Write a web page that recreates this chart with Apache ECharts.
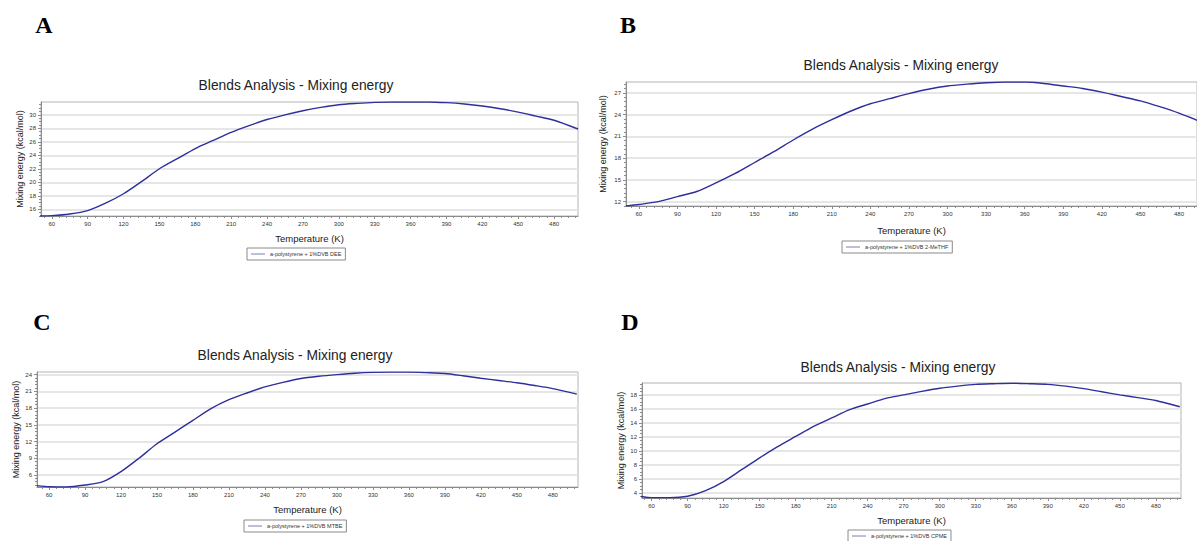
<!DOCTYPE html>
<html>
<head>
<meta charset="utf-8">
<title>Blends Analysis - Mixing energy</title>
<script src="https://cdn.jsdelivr.net/npm/echarts@6/dist/echarts.min.js"></script>
<style>
html, body { margin: 0; padding: 0; background: #fff; }
#chart { width: 1197px; height: 541px; }
</style>
</head>
<body>
<div id="chart"></div>
<script>
// temperature (K) points, same for all four panels
var temps = [50, 60, 75, 90, 105, 120, 135, 150, 165, 180, 195, 210, 225, 240, 255, 270,
  285, 300, 315, 330, 345, 360, 375, 390, 405, 420, 435, 450, 465, 480, 500];

// mixing energy (kcal/mol)
var energyDEE = [15.0, 15.05, 15.3, 15.8, 16.9, 18.3, 20.1, 22.0, 23.5, 25.0, 26.2, 27.4, 28.4, 29.3, 30.0, 30.6,
  31.1, 31.5, 31.7, 31.85, 31.9, 31.9, 31.9, 31.8, 31.6, 31.3, 30.9, 30.4, 29.8, 29.2, 27.9];
var energyMeTHF = [11.4, 11.6, 12.0, 12.7, 13.4, 14.6, 15.9, 17.4, 18.9, 20.5, 22.0, 23.3, 24.5, 25.5, 26.2, 26.9,
  27.5, 27.95, 28.2, 28.4, 28.5, 28.5, 28.3, 27.95, 27.6, 27.1, 26.5, 25.9, 25.1, 24.2, 22.8];
var energyMTBE = [4.1, 3.9, 3.85, 4.2, 4.8, 6.6, 9.0, 11.6, 13.7, 15.8, 17.9, 19.5, 20.7, 21.8, 22.6, 23.3,
  23.7, 24.0, 24.25, 24.4, 24.45, 24.45, 24.35, 24.2, 23.8, 23.35, 22.95, 22.55, 22.05, 21.5, 20.5];
var energyCPME = [3.5, 3.3, 3.3, 3.5, 4.3, 5.6, 7.3, 9.0, 10.6, 12.05, 13.5, 14.7, 15.9, 16.7, 17.5, 18.0,
  18.5, 18.95, 19.25, 19.5, 19.6, 19.67, 19.6, 19.5, 19.25, 18.9, 18.45, 18.0, 17.6, 17.2, 16.3];

// tick labels
var xLabels = [60, 90, 120, 150, 180, 210, 240, 270, 300, 330, 360, 390, 420, 450, 480];
var yLabelsA = [16, 18, 20, 22, 24, 26, 28, 30];
var yLabelsB = [12, 15, 18, 21, 24, 27];
var yLabelsC = [6, 9, 12, 15, 18, 21, 24];
var yLabelsD = [4, 6, 8, 10, 12, 14, 16, 18];

var seriesNames = ['a-polystyrene + 1%DVB DEE', 'a-polystyrene + 1%DVB 2-MeTHF',
  'a-polystyrene + 1%DVB MTBE', 'a-polystyrene + 1%DVB CPME'];
var panelLetters = ['A', 'B', 'C', 'D'];

var panels = [
  { data: energyDEE, yLabels: yLabelsA, yMin: 15.0, yMax: 31.9, yStep: 0.5, xMin: 51, xMax: 500,
    grid: { left: 41, top: 102, width: 537, height: 114 }, title: [296, 85], legend: [247, 248],
    letter: [44, 25], gapY: 17, gapX: 17 },
  { data: energyMeTHF, yLabels: yLabelsB, yMin: 11.4, yMax: 28.5, yStep: 0.6, xMin: 50, xMax: 494,
    grid: { left: 626, top: 82, width: 571, height: 124 }, title: [901, 65], legend: [842, 241],
    letter: [628, 25], gapY: 19, gapX: 19 },
  { data: energyMTBE, yLabels: yLabelsC, yMin: 3.85, yMax: 24.47, yStep: 0.6, xMin: 50, xMax: 501,
    grid: { left: 37, top: 372, width: 541, height: 115 }, title: [295, 355], legend: [244, 520],
    letter: [42, 322], gapY: 17, gapX: 17 },
  { data: energyCPME, yLabels: yLabelsD, yMin: 3.25, yMax: 19.7, yStep: 0.5, xMin: 52, xMax: 501,
    grid: { left: 642, top: 383, width: 539, height: 115 }, title: [898, 367], legend: [848, 530],
    letter: [630, 322], gapY: 17, gapX: 17 }
];

function steps(a, b, s) {
  var out = [];
  for (var v = Math.ceil(a / s) * s; v <= b + 1e-9; v += s) out.push(+v.toFixed(3));
  return out;
}

var grids = [], xAxes = [], yAxes = [], series = [], legends = [], graphics = [];
var axisColor = '#8c8c8c';
var font = 'Liberation Sans';

panels.forEach(function (p, i) {
  grids.push({ left: p.grid.left, top: p.grid.top, width: p.grid.width, height: p.grid.height,
    show: true, borderColor: '#b4b4b4', borderWidth: 1, backgroundColor: '#fff' });

  xAxes.push({
    gridIndex: i, type: 'value', min: p.xMin, max: p.xMax,
    name: 'Temperature (K)', nameLocation: 'middle', nameGap: p.gapX,
    nameTextStyle: { fontSize: 9.5, color: '#222', fontFamily: font },
    axisLine: { show: true, lineStyle: { color: axisColor } },
    axisTick: { show: true, customValues: xLabels, length: 3, lineStyle: { color: axisColor } },
    axisLabel: { customValues: xLabels, fontSize: 6, color: '#333', margin: 5, fontFamily: font },
    splitLine: { show: false }
  });
  // minor ticks
  xAxes.push({
    gridIndex: i, type: 'value', min: p.xMin, max: p.xMax, position: 'bottom',
    axisLine: { show: false },
    axisTick: { show: true, customValues: steps(p.xMin, p.xMax, 6), length: 2, lineStyle: { color: axisColor } },
    axisLabel: { show: false }, splitLine: { show: false }
  });

  yAxes.push({
    gridIndex: i, type: 'value', min: p.yMin, max: p.yMax,
    name: 'Mixing energy (kcal/mol)', nameLocation: 'middle', nameGap: p.gapY,
    nameTextStyle: { fontSize: 9, color: '#222', fontFamily: font },
    axisLine: { show: true, lineStyle: { color: axisColor } },
    axisTick: { show: true, customValues: p.yLabels, length: 3, lineStyle: { color: axisColor } },
    axisLabel: { customValues: p.yLabels, fontSize: 6, color: '#333', margin: 5, fontFamily: font },
    splitLine: { show: true, lineStyle: { color: '#e6e6e6', width: 2 } }
  });
  yAxes.push({
    gridIndex: i, type: 'value', min: p.yMin, max: p.yMax, position: 'left',
    axisLine: { show: false },
    axisTick: { show: true, customValues: steps(p.yMin, p.yMax, p.yStep), length: 2, lineStyle: { color: axisColor } },
    axisLabel: { show: false }, splitLine: { show: false }
  });

  series.push({
    name: seriesNames[i], type: 'line', xAxisIndex: 2 * i, yAxisIndex: 2 * i,
    data: temps.map(function (t, k) { return [t, p.data[k]]; }),
    symbol: 'none', smooth: 0.25, clip: true,
    lineStyle: { color: '#2e2e9c', width: 1.4 }, itemStyle: { color: '#7a7ab8' }
  });

  legends.push({
    data: [seriesNames[i]], left: p.legend[0], top: p.legend[1], orient: 'horizontal',
    icon: 'rect', itemWidth: 14, itemHeight: 1, itemGap: 4, padding: [3, 4],
    borderColor: '#8a8a8a', borderWidth: 1,
    backgroundColor: '#fff', selectedMode: false,
    itemStyle: { color: '#7a7ab8' }, lineStyle: { width: 0 },
    textStyle: { fontSize: 5.5, color: '#333', fontFamily: font }
  });

  graphics.push({
    type: 'text', x: p.title[0], y: p.title[1],
    style: { text: 'Blends Analysis - Mixing energy', fontSize: 13.8, fontFamily: font, fill: '#222',
      align: 'center', verticalAlign: 'middle' }
  });
  graphics.push({
    type: 'text', x: p.letter[0], y: p.letter[1],
    style: { text: panelLetters[i], fontSize: 24, fontWeight: 'bold', fontFamily: 'Liberation Serif',
      fill: '#000', align: 'center', verticalAlign: 'middle' }
  });
});

var option = {
  backgroundColor: '#fff',
  animation: false,
  grid: grids,
  xAxis: xAxes,
  yAxis: yAxes,
  legend: legends,
  series: series,
  graphic: graphics
};

var chart = echarts.init(document.getElementById('chart'), null, { renderer: 'svg' });
chart.setOption(option);
</script>
</body>
</html>
